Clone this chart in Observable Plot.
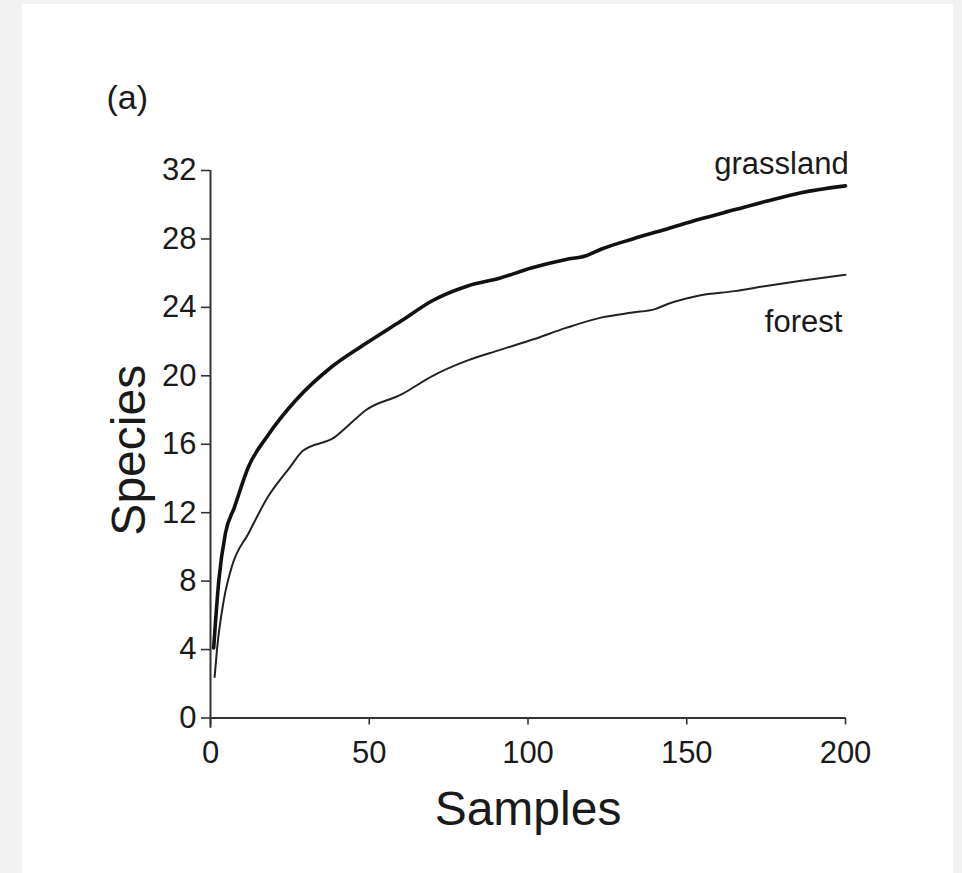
<!DOCTYPE html>
<html>
<head>
<meta charset="utf-8">
<script src="https://cdn.jsdelivr.net/npm/d3@7"></script>
<script src="https://cdn.jsdelivr.net/npm/@observablehq/plot@0.6"></script>
<style>
  html, body { margin: 0; padding: 0; background: #f1f1f1; width: 962px; height: 873px; overflow: hidden; }
  #panel { position: absolute; left: 22px; top: 4px; width: 931px; height: 869px; background: #ffffff; }
  #chart { position: absolute; left: 0; top: 0; }
</style>
</head>
<body>
<div id="panel"></div>
<div id="chart"></div>
<script>
// Rarefaction curves
const grassSamples = [1, 2.6, 4.7, 7.5, 12, 18, 27, 38, 49, 60, 70, 81, 91, 101, 112, 118, 123, 133, 144, 154, 165, 175, 186, 200];
const grassSpecies = [4.1, 8.0, 10.8, 12.3, 14.7, 16.5, 18.6, 20.5, 21.9, 23.2, 24.4, 25.25, 25.7, 26.3, 26.8, 27.0, 27.4, 28.0, 28.6, 29.15, 29.7, 30.2, 30.7, 31.1];
const forestSamples = [1.3, 2.1, 4.2, 6.8, 12, 18, 25, 29, 39, 44, 49, 60, 70, 81, 91, 102, 112, 123, 133, 140, 144, 154, 165, 175, 186, 200];
const forestSpecies = [2.4, 4.1, 6.9, 8.9, 10.8, 12.9, 14.65, 15.6, 16.4, 17.2, 18.0, 18.9, 20.0, 20.9, 21.5, 22.15, 22.8, 23.4, 23.7, 23.9, 24.2, 24.7, 24.95, 25.25, 25.55, 25.9];

const xTicks = [0, 50, 100, 150, 200];
const yTicks = [0, 4, 8, 12, 16, 20, 24, 28, 32];
const seriesLabels = ["grassland", "forest"];
const labelX = [201, 199];
const labelY = [32.4, 23.15];
const panelLabel = "(a)";
const xTitle = "Samples";
const yTitle = "Species";

const grass = grassSamples.map((s, i) => ({s, v: grassSpecies[i]}));
const forest = forestSamples.map((s, i) => ({s, v: forestSpecies[i]}));
const labels = seriesLabels.map((t, i) => ({t, x: labelX[i], y: labelY[i]}));

const ink = "#1a1a1a";
const font = "'Liberation Sans', Arial, Helvetica, sans-serif";

const chart = Plot.plot({
  width: 962,
  height: 873,
  marginLeft: 210,
  marginRight: 117,
  marginTop: 170,
  marginBottom: 155.5,
  style: {background: "transparent", fontFamily: font, color: ink},
  x: {domain: [0, 200]},
  y: {domain: [0, 32]},
  marks: [
    Plot.axisY({ticks: yTicks, tickSize: 9, tickPadding: 5, fontSize: 31, label: null, stroke: "#333", strokeWidth: 1.6}),
    Plot.axisX({ticks: xTicks, tickSize: 7, tickPadding: 16, fontSize: 31, label: null, stroke: "#333", strokeWidth: 1.6}),
    Plot.ruleX([0], {y1: -0.6, y2: 32, stroke: "#333", strokeWidth: 2}),
    Plot.ruleY([0], {x1: 0, x2: 200, stroke: "#333", strokeWidth: 2}),
    Plot.line(forest, {x: "s", y: "v", stroke: "#222", strokeWidth: 2, curve: "monotone-x"}),
    Plot.line(grass, {x: "s", y: "v", stroke: "#111", strokeWidth: 3.6, curve: "monotone-x"}),
    Plot.text(labels, {x: "x", y: "y", text: "t", textAnchor: "end", lineAnchor: "middle", fontSize: 31, fill: ink}),
    Plot.text([yTitle], {frameAnchor: "left", textAnchor: "middle", lineAnchor: "middle", rotate: -90, dx: -81, dy: 6, fontSize: 48, fill: ink}),
    Plot.text([xTitle], {frameAnchor: "bottom", textAnchor: "middle", lineAnchor: "middle", dy: 92, fontSize: 48, fill: ink}),
    Plot.text([panelLabel], {frameAnchor: "top-left", textAnchor: "start", lineAnchor: "middle", dx: -104, dy: -72, fontSize: 34, fill: ink})
  ]
});
document.getElementById("chart").appendChild(chart);
</script>
</body>
</html>
